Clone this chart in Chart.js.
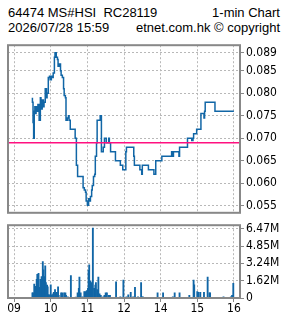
<!DOCTYPE html>
<html>
<head>
<meta charset="utf-8">
<script src="https://cdn.jsdelivr.net/npm/chart.js@4"></script>
<style>
    html, body { margin: 0; padding: 0; background: #fff; }
    body { width: 285px; height: 318px; position: relative; overflow: hidden; }
    .hdr { position: absolute; font: 13px 'Liberation Sans', Arial, sans-serif; line-height: 15px; color: #000; white-space: pre; }
    #priceBox { position: absolute; left: 0; top: 36px; width: 285px; height: 186px; }
    #volBox { position: absolute; left: 0; top: 216px; width: 285px; height: 102px; }
</style>
</head>
<body>
<div class="hdr" style="left:8px;top:5px">64474 MS#HSI  RC28119</div>
<div class="hdr" style="right:5px;top:5px">1-min Chart</div>
<div class="hdr" style="left:8px;top:20px">2026/07/28 15:59</div>
<div class="hdr" style="right:5px;top:20px">etnet.com.hk © copyright</div>
<div id="priceBox"><canvas id="priceChart" width="285" height="186"></canvas></div>
<div id="volBox"><canvas id="volChart" width="285" height="102"></canvas></div>
<script>
const PREV_CLOSE = 0.069;

const priceTimes = ['09:30','09:31','09:32','09:33','09:34','09:35','09:36','09:38','09:39','09:41',
    '09:43','09:44','09:46','09:48','09:49','09:51','09:53','09:54','09:56','09:58',
    '09:59','10:01','10:02','10:04','10:06','10:07','10:09','10:11','10:12','10:14',
    '10:16','10:17','10:19','10:21','10:22','10:24','10:25','10:27','10:29','10:30',
    '10:32','10:40','10:42','10:44','10:53','10:55','10:57','10:58','11:00','11:02',
    '11:03','11:05','11:07','11:08','11:10','11:12','11:13','11:15','11:16','11:21',
    '11:23','11:26','11:28','11:31','11:35','11:36','11:38','11:46','11:54','11:58',
    '13:03','13:04','13:16','13:17','13:26','13:29','13:30','13:40','13:49','13:52',
    '14:02','14:18','14:20','14:21','14:30','14:31','14:44','14:51','14:53','14:54',
    '14:59','15:06','15:11','15:12','15:13','15:29','15:37','16:00'];
const priceValues = [0.0790,0.0780,0.0735,0.0700,0.0760,0.0770,0.0755,0.0770,0.0760,0.0775,
    0.0740,0.0790,0.0765,0.0785,0.0770,0.0780,0.0810,0.0790,0.0800,0.0835,
    0.0838,0.0830,0.0838,0.0835,0.0845,0.0880,0.0890,0.0880,0.0875,0.0860,
    0.0865,0.0850,0.0840,0.0835,0.0810,0.0795,0.0790,0.0740,0.0745,0.0750,
    0.0740,0.0720,0.0700,0.0640,0.0615,0.0590,0.0585,0.0580,0.0560,0.0551,
    0.0565,0.0560,0.0570,0.0585,0.0595,0.0615,0.0620,0.0660,0.0690,0.0740,
    0.0750,0.0670,0.0680,0.0700,0.0690,0.0700,0.0690,0.0670,0.0650,0.0640,
    0.0630,0.0670,0.0680,0.0660,0.0640,0.0630,0.0620,0.0640,0.0630,0.0620,
    0.0650,0.0660,0.0670,0.0660,0.0670,0.0660,0.0680,0.0700,0.0695,0.0700,
    0.0710,0.0720,0.0755,0.0745,0.0760,0.0780,0.0760,0.0760];

// volume in millions
const volTimes = ['09:30','09:31','09:33','09:35','09:37','09:38','09:40','09:42','09:43','09:45',
    '09:47','09:48','09:50','09:51','09:52','09:54','09:55','09:57','09:59','10:00',
    '10:02','10:04','10:05','10:07','10:08','10:10','10:12','10:13','10:17','10:19',
    '10:22','10:24','10:25','10:28','10:33','10:41','10:44','10:46','10:47','10:49',
    '10:52','10:55','10:57','10:59','11:01','11:02','11:03','11:05','11:07','11:09',
    '11:11','11:13','11:14','11:16','11:18','11:20','11:22','11:26','11:28','11:30',
    '11:32','11:35','11:37','11:47','11:54','11:59','13:04','13:07','13:11','13:15',
    '13:18','13:23','13:28','13:29','13:31','13:55','14:04','14:20','14:23','14:31',
    '14:47','14:54','14:55','15:00','15:02','15:05','15:11','15:17','15:20','15:21',
    '15:43','15:55','15:57','15:59'];
const volValues = [0.48,0.48,1.30,1.10,1.74,2.20,2.30,1.00,1.74,2.00,
    3.40,2.64,2.00,3.00,1.44,1.20,1.05,0.33,0.24,1.23,
    0.30,0.39,0.54,0.78,0.48,0.54,1.05,0.24,0.48,0.48,
    0.48,0.48,0.24,0.12,2.10,0.09,0.48,0.90,1.95,0.48,
    0.12,0.60,0.60,0.69,0.90,2.58,3.10,1.60,1.44,6.54,
    0.90,1.20,1.44,0.78,1.95,0.39,0.24,0.12,0.24,0.48,
    0.48,0.24,0.24,1.50,0.12,1.68,0.12,0.30,0.54,0.12,
    1.00,0.12,1.44,0.12,0.12,0.48,0.48,0.12,0.48,0.48,
    0.24,1.68,1.23,0.60,0.54,0.54,0.54,1.95,0.48,0.48,
    0.12,0.12,0.24,1.38];

const xTickTimes = ['09:00','10:00','11:00','12:00','14:00','15:00','16:00'];
const xTickLabels = ['09','10','11','12','14','15','16'];
const priceTicks = [0.055, 0.060, 0.065, 0.070, 0.075, 0.080, 0.085, 0.089];
const volTicks = [0, 1.62, 3.24, 4.85, 6.47];
const volTickLabels = ['0', '1.62M', '3.24M', '4.85M', '6.47M'];

const BLUE = '#1166a6';
const GRID = '#b8b8b8';
const FRAME = '#888888';
const tickFont = { family: "'Liberation Sans Narrow', 'DejaVu Sans Condensed', 'Liberation Sans', sans-serif", size: 12 };

// trading minutes since 09:00, lunch hour removed
function toMin(t) {
    const [h, m] = t.split(':').map(Number);
    let v = h * 60 + m - 540;
    if (h >= 13) v -= 60;
    return v;
}

const frame = {
    id: 'frame',
    afterDraw(chart) {
        const a = chart.chartArea, ctx = chart.ctx;
        ctx.save();
        ctx.strokeStyle = FRAME;
        ctx.lineWidth = 2;
        ctx.strokeRect(a.left, a.top, a.right - a.left, a.bottom - a.top);
        ctx.restore();
    }
};

function xScale(showLabels) {
    return {
        type: 'linear', min: -10, max: 370, offset: false,
        afterBuildTicks: s => { s.ticks = xTickTimes.map(t => ({ value: toMin(t) })); },
        afterFit: s => { s.height = showLabels ? 20 : 0; },
        grid: { color: GRID, drawTicks: showLabels, tickLength: 4, tickColor: FRAME, tickBorderDash: [], offset: false },
        border: { display: false, dash: [2, 2] },
        ticks: { display: showLabels, autoSkip: false, maxRotation: 0, padding: 0, color: '#000', font: tickFont,
            callback: (v, i) => xTickLabels[i] }
    };
}

function yScale(min, max, list, labels) {
    return {
        position: 'right', min, max,
        afterBuildTicks: s => { s.ticks = list.map(v => ({ value: v })); },
        afterFit: s => { s.width = 45; },
        grid: { color: GRID, tickLength: 4, tickColor: FRAME, tickBorderDash: [] },
        border: { display: false, dash: [2, 2] },
        ticks: { autoSkip: false, padding: 2, color: '#000', font: tickFont,
            callback: (v, i) => labels ? labels[i] : list[i].toFixed(3) }
    };
}

new Chart(document.getElementById('priceChart'), {
    type: 'line',
    data: {
        datasets: [{
            data: [{ x: -10, y: PREV_CLOSE }, { x: 370, y: PREV_CLOSE }],
            borderColor: '#ff1080', borderWidth: 1.5, pointRadius: 0
        }, {
            data: priceTimes.map((t, i) => ({ x: toMin(t), y: priceValues[i] })),
            borderColor: BLUE, borderWidth: 1.5, pointRadius: 0, stepped: 'after'
        }]
    },
    options: {
        responsive: false, animation: false, events: [],
        layout: { padding: { left: 8, top: 6, right: 0, bottom: 6 } },
        plugins: { legend: { display: false }, tooltip: { enabled: false } },
        scales: { x: xScale(false), y: yScale(0.0534, 0.0907, priceTicks) }
    },
    plugins: [frame]
});

new Chart(document.getElementById('volChart'), {
    type: 'bar',
    data: {
        datasets: [{
            data: volTimes.map((t, i) => ({ x: toMin(t), y: volValues[i] })),
            backgroundColor: BLUE, barThickness: 1.2
        }]
    },
    options: {
        responsive: false, animation: false, events: [],
        layout: { padding: { left: 8, top: 6, right: 0, bottom: 0 } },
        plugins: { legend: { display: false }, tooltip: { enabled: false } },
        scales: { x: xScale(true), y: yScale(0, 6.80, volTicks, volTickLabels) }
    },
    plugins: [frame]
});
</script>
</body>
</html>
